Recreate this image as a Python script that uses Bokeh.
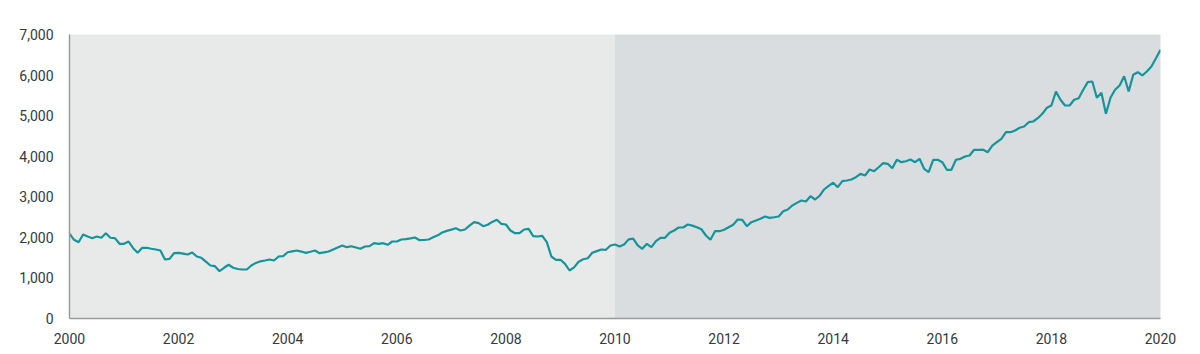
from bokeh.plotting import figure
from bokeh.models import BoxAnnotation, NumeralTickFormatter, FixedTicker, ColumnDataSource
from bokeh.embed import file_html
from bokeh.resources import INLINE
import numpy as np

start_year = 2000
# Monthly values, Jan 2000 .. Jan 2020
v2000 = [2090, 1940, 1880, 2070, 2020, 1980, 2020, 1990, 2100, 1990, 1980, 1841]
v2001 = [1841, 1898, 1733, 1619, 1743, 1743, 1720, 1701, 1676, 1454, 1471, 1610]
v2002 = [1619, 1600, 1577, 1627, 1528, 1496, 1400, 1306, 1289, 1166, 1250, 1324]
v2003 = [1250, 1220, 1208, 1208, 1306, 1370, 1410, 1430, 1454, 1430, 1528, 1536]
v2004 = [1634, 1655, 1676, 1650, 1619, 1645, 1676, 1610, 1630, 1651, 1701, 1750]
v2005 = [1799, 1758, 1782, 1750, 1718, 1775, 1782, 1856, 1841, 1856, 1816, 1898]
v2006 = [1898, 1947, 1955, 1975, 1997, 1930, 1935, 1947, 2000, 2050, 2120, 2160]
v2007 = [2190, 2226, 2169, 2194, 2290, 2374, 2349, 2275, 2310, 2380, 2433, 2334]
v2008 = [2317, 2169, 2103, 2103, 2194, 2210, 2029, 2021, 2038, 1881, 1528, 1447]
v2009 = [1447, 1348, 1183, 1260, 1400, 1460, 1486, 1619, 1660, 1701, 1693, 1799]
v2010 = [1824, 1775, 1824, 1950, 1970, 1800, 1718, 1841, 1758, 1906, 1989, 1989]
v2011 = [2112, 2169, 2243, 2243, 2317, 2290, 2250, 2200, 2046, 1940, 2152, 2152]
v2012 = [2186, 2250, 2310, 2440, 2433, 2275, 2374, 2415, 2460, 2514, 2481, 2495]
v2013 = [2514, 2645, 2687, 2785, 2850, 2908, 2884, 3015, 2933, 3020, 3180, 3270]
v2014 = [3345, 3236, 3384, 3402, 3426, 3483, 3566, 3525, 3673, 3631, 3729, 3828]
v2015 = [3813, 3705, 3912, 3853, 3877, 3919, 3853, 3936, 3690, 3606, 3912, 3912]
v2016 = [3853, 3665, 3665, 3912, 3936, 3993, 4018, 4158, 4158, 4160, 4100, 4260]
v2017 = [4346, 4429, 4592, 4592, 4634, 4700, 4732, 4839, 4856, 4937, 5046, 5193]
v2018 = [5250, 5595, 5391, 5250, 5250, 5391, 5430, 5637, 5825, 5842, 5440, 5563]
v2019 = [5046, 5440, 5637, 5743, 5972, 5595, 6007, 6071, 5990, 6088, 6211, 6416]
v2020 = [6623]

values = (v2000 + v2001 + v2002 + v2003 + v2004 + v2005 + v2006 + v2007 + v2008 + v2009 +
          v2010 + v2011 + v2012 + v2013 + v2014 + v2015 + v2016 + v2017 + v2018 + v2019 + v2020)
dates = start_year + np.arange(len(values)) / 12.0

x_ticks = [2000, 2002, 2004, 2006, 2008, 2010, 2012, 2014, 2016, 2018, 2020]
y_ticks = [0, 1000, 2000, 3000, 4000, 5000, 6000, 7000]
period_split = 2010

src = ColumnDataSource(dict(x=dates, y=values))

p = figure(width=1200, height=354, output_backend="svg", toolbar_location=None,
           x_range=(2000, 2020), y_range=(0, 7000),
           min_border_left=69, min_border_right=40, min_border_top=34, min_border_bottom=36)
p.background_fill_color = "#e8eaea"
p.border_fill_color = "white"
p.outline_line_color = None
p.xgrid.grid_line_color = None
p.ygrid.grid_line_color = None

p.add_layout(BoxAnnotation(left=period_split, fill_color="#d9dddf", fill_alpha=1.0, line_color=None, level="underlay"))

p.line("x", "y", source=src, line_color="#15949a", line_width=2.2)

for ax in (p.xaxis[0], p.yaxis[0]):
    ax.axis_line_color = "#9a9a9a"
    ax.axis_line_width = 1.5
    ax.major_tick_line_color = None
    ax.minor_tick_line_color = None
    ax.major_label_text_font = "Roboto"
    ax.major_label_text_font_size = "14px"
    ax.major_label_text_color = "#333a40"

p.xaxis.ticker = FixedTicker(ticks=x_ticks)
p.yaxis.ticker = FixedTicker(ticks=y_ticks)
p.yaxis.formatter = NumeralTickFormatter(format="0,0")
p.xaxis.major_label_standoff = 8
p.yaxis.major_label_standoff = 10

open("out.html", "w").write(file_html(p, INLINE))
